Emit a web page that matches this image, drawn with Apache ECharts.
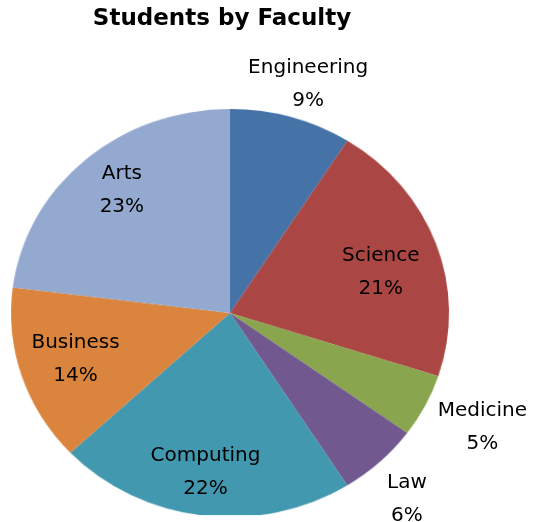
<!DOCTYPE html>
<html>
<head>
<meta charset="utf-8">
<script src="https://cdn.jsdelivr.net/npm/echarts@6/dist/echarts.min.js"></script>
<style>
  html, body { margin: 0; padding: 0; background: #fff; }
  #wrap { position: relative; width: 534px; height: 522px; overflow: hidden; }
  #pie, #labels { position: absolute; left: 0; top: 0; width: 534px; height: 522px; }
  /* the pie is drawn slightly wider than tall */
  #pie { transform: scale(1.038, 0.967); transform-origin: 230px 313px; }
</style>
</head>
<body>
<div id="wrap">
  <div id="pie"></div>
  <div id="labels"></div>
</div>
<script>
// Faculties and their share of students (%)
const faculties = ['Engineering', 'Science', 'Medicine', 'Law', 'Computing', 'Business', 'Arts'];
const shares = [9, 21, 5, 6, 22, 14, 23];
const colors = ['#4572A7', '#AA4643', '#89A54E', '#71588F', '#4198AF', '#DB843D', '#93A9CF'];
// Slices whose labels sit outside the pie
const outsideLabels = ['Engineering', 'Medicine', 'Law'];
const labelNudge = {
  Engineering: [6, 20], Science: [-3, 15], Medicine: [22, -3],
  Law: [0, -2], Business: [1, -4], Computing: [-4, -3]
};

const center = [230, 313];
const R = 211;
const labelFont = { fontFamily: 'DejaVu Sans', fontSize: 20, color: '#000', lineHeight: 33 };

function labelData(showFn) {
  return faculties.map((name, i) => ({
    name,
    value: shares[i],
    label: Object.assign({ show: showFn(name) }, labelNudge[name] ? { offset: labelNudge[name] } : {})
  }));
}

// Pie layer
const pieChart = echarts.init(document.getElementById('pie'), null, { renderer: 'canvas' });
pieChart.setOption({
  animation: false,
  color: colors,
  series: [{
    type: 'pie',
    center, radius: R,
    startAngle: 90, clockwise: true,
    silent: true,
    label: { show: false }, labelLine: { show: false },
    itemStyle: { borderWidth: 0 },
    data: faculties.map((name, i) => ({ name, value: shares[i] }))
  }]
});

// Title and slice labels
const labelChart = echarts.init(document.getElementById('labels'), null, { renderer: 'canvas' });
labelChart.setOption({
  animation: false,
  backgroundColor: 'transparent',
  title: {
    text: 'Students by Faculty',
    left: 217, top: 3,
    textAlign: 'center',
    textStyle: { fontFamily: 'DejaVu Sans', fontWeight: 'bold', fontSize: 23, color: '#000' }
  },
  series: [
    {
      // labels inside the larger slices
      type: 'pie',
      center, radius: [110, R],
      startAngle: 90, clockwise: true,
      silent: true,
      itemStyle: { color: 'rgba(0,0,0,0)', borderWidth: 0 },
      label: Object.assign({ position: 'inside', formatter: '{b}\n{c}%' }, labelFont),
      labelLine: { show: false },
      data: labelData(n => !outsideLabels.includes(n))
    },
    {
      // labels beyond the rim for the thin slices
      type: 'pie',
      center, radius: [R, 300],
      startAngle: 90, clockwise: true,
      silent: true,
      itemStyle: { color: 'rgba(0,0,0,0)', borderWidth: 0 },
      label: Object.assign({ position: 'inside', formatter: '{b}\n{c}%' }, labelFont),
      labelLine: { show: false },
      data: labelData(n => outsideLabels.includes(n))
    }
  ]
});
</script>
</body>
</html>
